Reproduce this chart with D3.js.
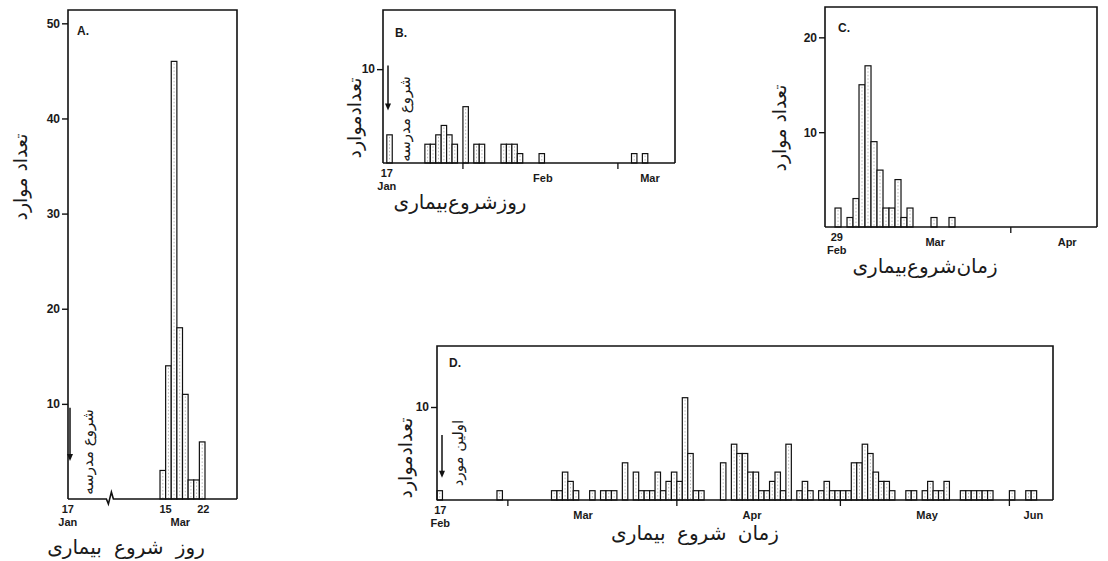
<!DOCTYPE html>
<html>
<head>
<meta charset="utf-8">
<script src="https://cdn.jsdelivr.net/npm/d3@7"></script>
<style>
	body { margin: 0; background: #fff; }
	svg { display: block; }
	.tick text, .xlab, .letter { font-family: "Liberation Sans", Arial, sans-serif; font-weight: bold; fill: #1a1a1a; }
	.tick text { font-size: 12px; }
	.xlab { font-size: 11px; }
	.letter { font-size: 12px; }
	.fa { font-family: "DejaVu Sans", sans-serif; fill: #1a1a1a; }
</style>
</head>
<body>
<div id="chartDiv"></div>
<script>
;(function() {

	var width = 1108;
	var height = 561;

	// A: school outbreak, days of March (after the axis break)
	var aDays = [14, 15, 16, 17, 18, 19, 20, 21];
	var aCounts = [3, 14, 46, 18, 11, 2, 2, 6];
	var aYTicks = [10, 20, 30, 40, 50];
	var aLabelPos = [-2.4, 15, 21.7, 17.6];
	var aLabelText = ["17\nJan", "15\n", "22\n", "\nMar"];

	// B: day slots counted from 17 Jan
	var bDays = [0, 7, 8, 9, 10, 11, 12, 14, 16, 17, 21, 22, 23, 24, 28, 45, 47];
	var bCounts = [3, 2, 2, 3, 4, 3, 2, 6, 2, 2, 2, 2, 2, 1, 1, 1, 1];
	var bYTicks = [10];
	var bMinorTicks = [14, 42.5];
	var bLabelPos = [0, 28.7, 48.4];
	var bLabelText = ["17\nJan", "Feb", "Mar"];

	// C: day slots counted from 29 Feb
	var cDays = [0, 2, 3, 4, 5, 6, 7, 8, 9, 10, 11, 12, 16, 19];
	var cCounts = [2, 1, 3, 15, 17, 9, 6, 2, 2, 5, 1, 2, 1, 1];
	var cYTicks = [10, 20];
	var cMinorTicks = [29.3];
	var cLabelPos = [0.3, 16.7, 38.7];
	var cLabelText = ["29\nFeb", "Mar", "Apr"];

	// D: days counted from 17 Feb
	var dDays = [0, 11, 21, 22, 23, 24, 25, 28, 30, 31, 32, 34, 36, 37, 38, 39, 40, 41, 42, 43, 44, 45, 46, 47, 48,
		52, 54, 55, 56, 57, 58, 59, 60, 61, 62, 63, 64, 66, 67, 68, 70, 71, 72, 73, 74, 75, 76, 77, 78, 79, 80,
		81, 82, 83, 86, 87, 89, 90, 91, 92, 93, 96, 97, 98, 99, 100, 101, 105, 108, 109];
	var dCounts = [1, 1, 1, 1, 3, 2, 1, 1, 1, 1, 1, 4, 3, 1, 1, 1, 3, 1, 2, 3, 2, 11, 5, 1, 1,
		4, 6, 5, 5, 3, 3, 1, 1, 2, 3, 1, 6, 1, 2, 1, 1, 2, 1, 1, 1, 1, 4, 4, 6, 5, 3,
		2, 2, 1, 1, 1, 1, 2, 1, 1, 2, 1, 1, 1, 1, 1, 1, 1, 1, 1];
	var dYTicks = [10];
	var dMinorTicks = [13, 44, 74, 105];
	var dLabelPos = [0.6, 26.8, 57.8, 89.9, 109.4];
	var dLabelText = ["17\nFeb", "Mar", "Apr", "May", "Jun"];

	var yTitle = "تعداد موارد";
	var yTitleJoined = "تعدادموارد";

	var svg;

	init();

	function init() {
		svg = d3.select("#chartDiv").append("svg")
			.attr("width", width)
			.attr("height", height);

		svg.append("rect").attr("width", width).attr("height", height).attr("fill", "#fff");

		drawPanel({
			left: 68, top: 10, right: 237, bottom: 499,
			xDomain: [-2.36, 27.69], yMax: 51.4,
			days: aDays, counts: aCounts, yTicks: aYTicks, minorTicks: [],
			labelPos: aLabelPos, labelText: aLabelText, breakAt: 5,
			letter: "A.", letterX: 9, letterY: 25,
			yTitle: yTitle, yTitleX: 20, yTitleY: 177,
			xTitle: "روز شروع بیماری", xTitleX: 126, xTitleY: 547, wordGap: 6,
			arrow: { x: 70, from: 9.6, to: 4 },
			note: "شروع مدرسه", noteX: 88, noteY: 452
		});

		drawPanel({
			left: 383, top: 10, right: 675, bottom: 163,
			xDomain: [-0.7, 53], yMax: 16.3,
			days: bDays, counts: bCounts, yTicks: bYTicks, minorTicks: bMinorTicks,
			labelPos: bLabelPos, labelText: bLabelText,
			letter: "B.", letterX: 12, letterY: 27,
			yTitle: yTitleJoined, yTitleX: 354, yTitleY: 118,
			xTitle: "روزشروع‌بیماری", xTitleX: 460, xTitleY: 202, wordGap: 0,
			arrow: { x: 388, from: 10.4, to: 5.6 },
			note: "شروع مدرسه", noteX: 405, noteY: 119
		});

		drawPanel({
			left: 825, top: 7, right: 1097, bottom: 227,
			xDomain: [-1.67, 43.67], yMax: 23.2,
			days: cDays, counts: cCounts, yTicks: cYTicks, minorTicks: cMinorTicks,
			labelPos: cLabelPos, labelText: cLabelText,
			letter: "C.", letterX: 13, letterY: 25,
			yTitle: yTitle, yTitleX: 779, yTitleY: 128,
			xTitle: "زمان‌شروع‌بیماری", xTitleX: 925, xTitleY: 266, wordGap: 0
		});

		drawPanel({
			left: 437, top: 346, right: 1053, bottom: 500,
			xDomain: [0, 113], yMax: 16.56,
			days: dDays, counts: dCounts, yTicks: dYTicks, minorTicks: dMinorTicks,
			labelPos: dLabelPos, labelText: dLabelText,
			letter: "D.", letterX: 12, letterY: 21,
			yTitle: yTitleJoined, yTitleX: 405, yTitleY: 458,
			xTitle: "زمان شروع بیماری", xTitleX: 695, xTitleY: 533, wordGap: 5,
			arrow: { x: 442, from: 7.0, to: 2.4 },
			note: "اولین مورد", noteX: 458, noteY: 453
		});
	}

	function drawPanel(p) {
		var w = p.right - p.left;
		var h = p.bottom - p.top;

		var g = svg.append("g")
			.attr("transform", "translate(" + p.left + "," + p.top + ")");

		var x = d3.scaleLinear().domain(p.xDomain).range([0, w]);
		var y = d3.scaleLinear().domain([0, p.yMax]).range([h, 0]);
		var bw = x(1) - x(0);
		var rows = d3.zip(p.days, p.counts);

		// bars
		g.selectAll(".bar")
			.data(rows)
			.enter().append("rect")
			.attr("class", "bar")
			.attr("x", function(d) { return x(d[0]); })
			.attr("y", function(d) { return y(d[1]); })
			.attr("width", bw)
			.attr("height", function(d) { return h - y(d[1]); })
			.attr("fill", "#fff")
			.attr("stroke", "#111")
			.attr("stroke-width", 1.2);

		// the grey shading line the scan shows inside each bar
		g.selectAll(".shade")
			.data(rows)
			.enter().append("line")
			.attr("class", "shade")
			.attr("x1", function(d) { return x(d[0]) + bw / 2; })
			.attr("x2", function(d) { return x(d[0]) + bw / 2; })
			.attr("y1", function(d) { return y(d[1]) + 2; })
			.attr("y2", h - 1)
			.attr("stroke", "#9a9a9a")
			.attr("stroke-width", 0.7)
			.attr("stroke-dasharray", "1.5,2");

		// frame
		g.append("path")
			.attr("d", "M0," + h + "V0H" + w + "V" + h)
			.attr("fill", "none")
			.attr("stroke", "#111")
			.attr("stroke-width", 1.6);

		var base;
		if (p.breakAt != null) {
			var xb = x(p.breakAt);
			base = "M0," + h + "H" + (xb - 3) + "L" + (xb - 1) + "," + (h + 5) +
				"L" + (xb + 2) + "," + (h - 7) + "L" + (xb + 4) + "," + h + "H" + w;
		} else {
			base = "M0," + h + "H" + w;
		}
		g.append("path")
			.attr("d", base)
			.attr("fill", "none")
			.attr("stroke", "#111")
			.attr("stroke-width", 1.6);

		// y axis
		var yAxis = d3.axisLeft(y)
			.tickValues(p.yTicks)
			.tickSize(6)
			.tickPadding(2)
			.tickFormat(d3.format("d"));
		var ya = g.append("g").call(yAxis);
		ya.select(".domain").remove();
		ya.selectAll(".tick line").attr("stroke", "#111").attr("stroke-width", 1.4);

		// minor x ticks
		g.selectAll(".xtick")
			.data(p.minorTicks)
			.enter().append("line")
			.attr("x1", function(d) { return x(d); })
			.attr("x2", function(d) { return x(d); })
			.attr("y1", h)
			.attr("y2", h + 6)
			.attr("stroke", "#111")
			.attr("stroke-width", 1.3);

		// x labels: two lines = top / bottom row, one line = middle
		p.labelPos.forEach(function(v, i) {
			var lines = p.labelText[i].split("\n");
			var ys = lines.length == 2 ? [h + 14, h + 27] : [h + 19];
			lines.forEach(function(t, j) {
				if (!t) return;
				g.append("text")
					.attr("class", "xlab")
					.attr("x", x(v))
					.attr("y", ys[j])
					.attr("text-anchor", "middle")
					.text(t);
			});
		});

		g.append("text")
			.attr("class", "letter")
			.attr("x", p.letterX)
			.attr("y", p.letterY)
			.text(p.letter);

		// titles
		svg.append("text")
			.attr("class", "fa")
			.style("font-size", "19px")
			.attr("text-anchor", "middle")
			.attr("dy", "0.35em")
			.attr("transform", "translate(" + p.yTitleX + "," + p.yTitleY + ") rotate(-90)")
			.text(p.yTitle);

		svg.append("text")
			.attr("class", "fa")
			.style("font-size", "20px")
			.style("word-spacing", p.wordGap + "px")
			.attr("text-anchor", "middle")
			.attr("dy", "0.35em")
			.attr("x", p.xTitleX)
			.attr("y", p.xTitleY)
			.text(p.xTitle);

		// arrow + rotated note
		if (p.arrow) {
			var ax = p.arrow.x - p.left;
			var y1 = y(p.arrow.from);
			var y2 = y(p.arrow.to);
			g.append("line")
				.attr("x1", ax).attr("x2", ax)
				.attr("y1", y1).attr("y2", y2 - 5)
				.attr("stroke", "#111")
				.attr("stroke-width", 1.5);
			g.append("path")
				.attr("d", "M" + (ax - 3) + "," + (y2 - 7) + "L" + (ax + 3) + "," + (y2 - 7) + "L" + ax + "," + y2 + "Z")
				.attr("fill", "#111");

			svg.append("text")
				.attr("class", "fa")
				.style("font-size", "15px")
				.attr("text-anchor", "middle")
				.attr("dy", "0.35em")
				.attr("transform", "translate(" + p.noteX + "," + p.noteY + ") rotate(-90)")
				.text(p.note);
		}
	}

})();
</script>
</body>
</html>
